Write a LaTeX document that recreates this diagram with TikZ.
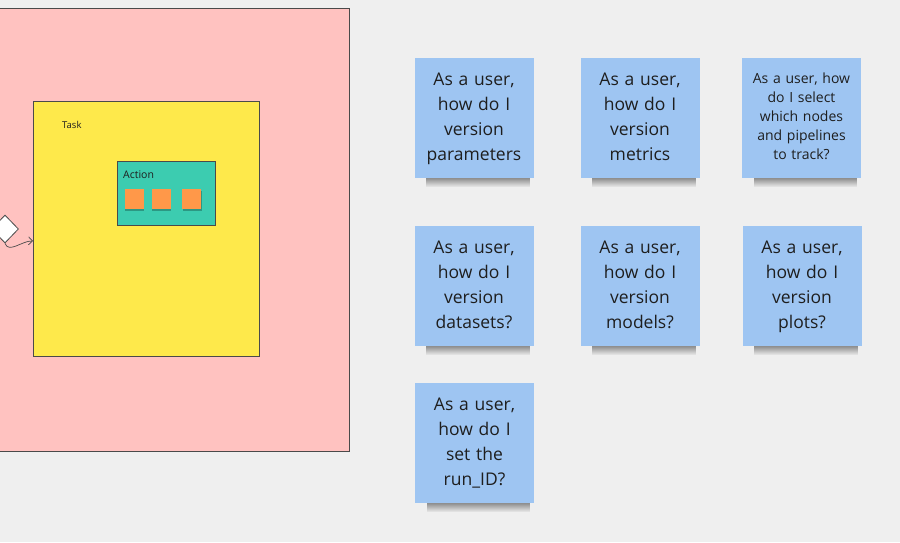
\documentclass[tikz,border=0pt]{standalone}
\usepackage{fontspec}
\setmainfont{Open Sans}
\usetikzlibrary{positioning}
\usetikzlibrary{shapes.geometric}
\usetikzlibrary{shadows}
\usetikzlibrary{fadings}
\usetikzlibrary{arrows.meta}

\definecolor{boardgray}{HTML}{EFEFEF}
\definecolor{flowpink}{HTML}{FFC2C0}
\definecolor{taskyellow}{HTML}{FEE94B}
\definecolor{actiongreen}{HTML}{3CCCB0}
\definecolor{steporange}{HTML}{FF9849}
\definecolor{stickyblue}{HTML}{9EC5F2}
\definecolor{edgegray}{HTML}{4A4A4A}
\definecolor{inkgray}{HTML}{1E1E1E}

\begin{document}
\begin{tikzpicture}[x=1pt,y=-1pt,>={Straight Barb[length=4pt]}]
% --- Layout & Styles --------------------------------------
\tikzstyle{frame}=[draw=edgegray,line width=0.8pt,inner sep=0,anchor=north west];
\tikzstyle{sticky}=[fill=stickyblue,text=inkgray,align=center,inner sep=0,
  minimum width=119pt,minimum height=120pt,text width=112pt,
  font={\fontsize{17.5}{25}\selectfont},
  execute at begin node={\strut},execute at end node={\strut}];
\tikzstyle{small sticky}=[sticky,font={\fontsize{14}{19}\selectfont}];
\tikzstyle{step note}=[fill=steporange,inner sep=0,minimum width=19pt,minimum height=20pt,
  drop shadow={shadow xshift=0.5pt,shadow yshift=-1.5pt,opacity=0.25,fill=black}];
\tikzstyle{decision}=[diamond,draw=edgegray,fill=white,line width=0.8pt,inner sep=0,
  minimum width=27pt,minimum height=28pt];
\tikzstyle{frame label}=[anchor=west,inner sep=0,text=inkgray];
% --- Board ------------------------------------------------
\fill[boardgray] (0,0) rectangle (900,542);
\clip (0,0) rectangle (900,542);
% --- Frames -----------------------------------------------
\node(flow)[frame,fill=flowpink,minimum width=369pt,minimum height=443pt] at (-20,8) {};
\node(task)[frame,fill=taskyellow,minimum width=226pt,minimum height=255pt] at (33,101) {};
\node(action)[frame,fill=actiongreen,minimum width=98pt,minimum height=64pt] at (117,161) {};
\node(s1)[step note] at (134,199) {};
\node(s2)[step note,right=8pt of s1] {};
\node(s3)[step note,right=11pt of s2] {};
\node(dia)[decision] at (5,229) {};
\coordinate(inflow) at (-14,202);
\coordinate(taskin) at (33,241);

% --- Frame labels -----------------------------------------
\draw node (tasklabel) at (62,125) [frame label,font=\fontsize{9.5}{11}\selectfont] {Task};
\draw node (actionlabel) at (123,175) [frame label,font=\fontsize{10.5}{12}\selectfont] {Action};

% --- Stickies ---------------------------------------------
\node(q1)[sticky] at (474,118) {As a user,\\how do I\\version\\parameters};
\node(q2)[sticky] at (640,118) {As a user,\\how do I\\version\\metrics};
\node(q3)[small sticky] at (801.5,118) {As a user, how\\do I select\\which nodes\\and pipelines\\to track?};
\node(q4)[sticky] at (474,286) {As a user,\\how do I\\version\\datasets?};
\node(q5)[sticky] at (640,286) {As a user,\\how do I\\version\\models?};
\node(q6)[sticky] at (802,286) {As a user,\\how do I\\version\\plots?};
\node(q7)[sticky] at (474.5,443) {As a user,\\how do I\\set the\\run\_ID?};
\foreach \q in {q1,q2,q3,q4,q5,q6,q7}
  \fill[black,opacity=0.4,path fading=south]
    ([xshift=12pt]\q.south west) rectangle ([xshift=-4pt,yshift=-9pt]\q.south east);

% --- Edges ------------------------------------------------
\draw [edgegray,line width=0.7pt] (inflow) -- (dia.north west);
\draw [edgegray,line width=0.7pt,->] (dia.south) to [out=-70,in=178] (taskin);

\end{tikzpicture}
\end{document}
